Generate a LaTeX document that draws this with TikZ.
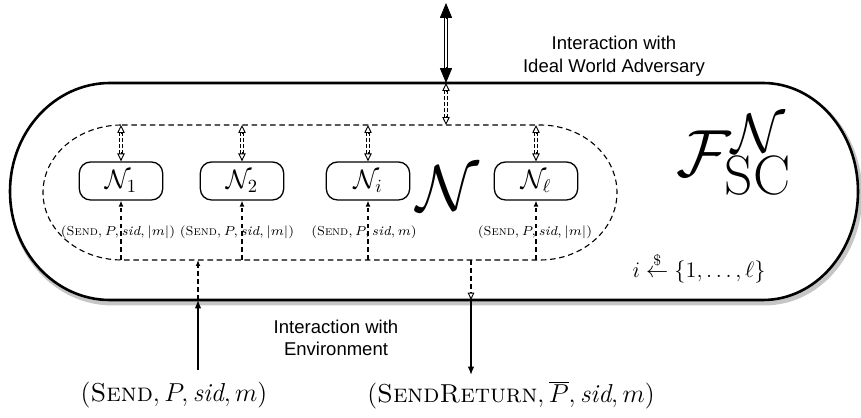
\RequirePackage{fix-cm}
\documentclass[tikz,border=0pt]{standalone}
\usepackage{fontspec}
\newfontfamily\helv{Liberation Sans}
\usetikzlibrary{arrows.meta}
\DeclareMathSizes{36}{36}{30}{24}
\begin{document}
\begin{tikzpicture}[x=0.54pt,y=-0.54pt,
  outerline/.style={line width=1.4pt},
  shadowline/.style={line width=2.6pt, gray!45},
  innerline/.style={line width=0.6pt, dash pattern=on 3pt off 2pt},
  nbox/.style={draw, line width=0.7pt, rounded corners=6pt, minimum width=45pt, minimum height=20.5pt, inner sep=0pt, font=\Large},
  bigshaft/.style={double, double distance=1pt, line width=0.6pt, shorten <=7pt, shorten >=7pt},
  ftip/.style={-{Triangle[length=8pt,width=6.5pt]}},
  dshaft/.style={double, double distance=1pt, line width=0.35pt, dash pattern=on 2pt off 1.2pt, shorten <=4pt, shorten >=4pt},
  otip/.style={-{Triangle[open,length=4.3pt,width=4pt,line width=0.5pt]}},
  sarrow/.style={line width=0.6pt, dash pattern=on 2.5pt off 1.8pt, -{Latex[length=3.2pt,width=2.6pt]}},
  darrow/.style={line width=0.6pt, dash pattern=on 2.5pt off 1.8pt, -{Triangle[open,length=4pt,width=3.6pt,line width=0.5pt]}},
  solidarrow/.style={line width=0.7pt, -{Latex[length=4.5pt,width=3.5pt]}},
  slabel/.style={inner sep=0pt, font=\fontsize{7}{9}\selectfont},
  blabel/.style={inner sep=0pt, font=\fontsize{14}{16}\selectfont},
  stext/.style={inner sep=0pt, align=center, font=\helv\fontsize{10}{12.2}\selectfont}
]
\useasboundingbox (0,0) rectangle (861,418);

% outer shape (shadow + line)
\begin{scope}[shift={(2,3)}]
\draw[shadowline] (110,83) -- (763,83) arc[start angle=-90,end angle=90,x radius=95,y radius=108.5]
  -- (110,300) arc[start angle=90,end angle=270,x radius=100,y radius=108.5] -- cycle;
\end{scope}
\draw[outerline, fill=white] (110,83) -- (763,83) arc[start angle=-90,end angle=90,x radius=95,y radius=108.5]
  -- (110,300) arc[start angle=90,end angle=270,x radius=100,y radius=108.5] -- cycle;

% inner dashed shape
\draw[innerline] (122,125) -- (540,125) arc[start angle=-90,end angle=90,x radius=77,y radius=67.5]
  -- (122,260) arc[start angle=90,end angle=270,x radius=79,y radius=67.5] -- cycle;

% nodes
\node[nbox] (n1) at (121,181) {$\mathcal{N}_1$};
\node[nbox] (n2) at (242,181) {$\mathcal{N}_2$};
\node[nbox] (ni) at (368,181) {$\mathcal{N}_i$};
\node[nbox] (nl) at (536,181) {$\mathcal{N}_\ell$};

\node[inner sep=0pt, font=\fontsize{35}{40}\selectfont] (bigN) at (448,188) {$\mathcal{N}$};
\node[inner sep=0pt, font=\fontsize{36}{42}\selectfont] (F) at (734,155) {$\mathcal{F}^{\mathcal{N}}_{\mathrm{SC}}$};
\node[inner sep=0pt, font=\fontsize{12}{14}\selectfont] (pick) at (699,268) {$i \stackrel{\$}{\leftarrow} \{1,\ldots,\ell\}$};

% coordinates
\coordinate (adv) at (446,3);
\coordinate (otop) at (446,83);
\coordinate (tc) at (446,125);
\coordinate (t1) at (121,125);
\coordinate (t2) at (242,125);
\coordinate (ti) at (368,125);
\coordinate (tl) at (536,125);
\coordinate (b1) at (121,260);
\coordinate (b2) at (242,260);
\coordinate (bi) at (368,260);
\coordinate (bl) at (536,260);
\coordinate (bin) at (198,260);
\coordinate (obin) at (198,300);
\coordinate (env1) at (198,370);
\coordinate (bout) at (471,260);
\coordinate (obout) at (471,300);
\coordinate (env2) at (471,375);

% top big double arrow
\draw[bigshaft] (adv) -- (otop);
\draw[ftip] ([yshift=-8.5pt]adv) -- (adv);
\draw[ftip] ([yshift=8.5pt]otop) -- (otop);

% small double arrows
\foreach \a/\b in {otop/tc, t1/n1.north, t2/n2.north, ti/ni.north, tl/nl.north}{
  \draw[dshaft] (\a) -- (\b);
  \draw[otip] ([yshift=-4.8pt]\a) -- (\a);
  \draw[otip] ([yshift=4.8pt]\b) -- (\b);
}

% lower dashed arrows into nodes
\draw[sarrow] (b1) -- (n1.south);
\draw[sarrow] (b2) -- (n2.south);
\draw[sarrow] (bi) -- (ni.south);
\draw[sarrow] (bl) -- (nl.south);

% labels
\node[slabel] (l1) at (118,232) {$(\textsc{Send}, P, \mathit{sid}, |m|)$};
\node[slabel] (l2) at (237,232) {$(\textsc{Send}, P, \mathit{sid}, |m|)$};
\node[slabel] (li) at (364,232) {$(\textsc{Send}, P, \mathit{sid}, m)$};
\node[slabel] (ll) at (535,232) {$(\textsc{Send}, P, \mathit{sid}, |m|)$};

% environment arrows
\draw[sarrow] (obin) -- (bin);
\draw[darrow] (bout) -- (obout);
\draw[solidarrow] (env1) -- (obin);
\draw[solidarrow] (obout) -- (env2);

% texts
\node[stext] (advtext) at (614,56) {Interaction with\\Ideal World Adversary};
\node[stext] (envtext) at (336,338) {Interaction with\\Environment};
\node[blabel] (send) at (174,395) {$(\textsc{Send}, P, \mathit{sid}, m)$};
\node[blabel] (ret) at (511,395) {$(\textsc{SendReturn}, \overline{P}, \mathit{sid}, m)$};
\end{tikzpicture}
\end{document}
